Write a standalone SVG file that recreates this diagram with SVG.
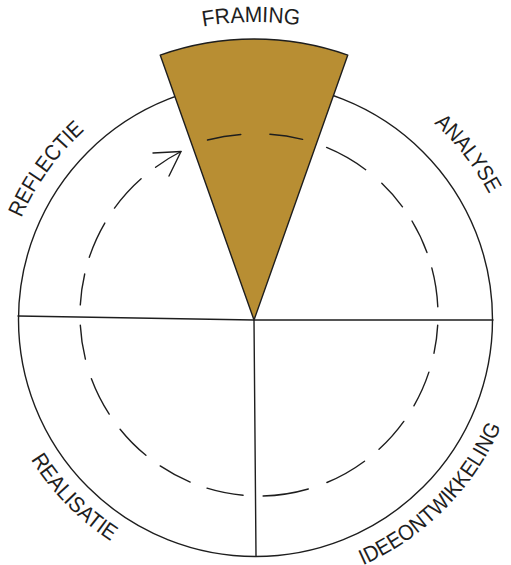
<svg xmlns="http://www.w3.org/2000/svg" width="511" height="565" viewBox="0 0 511 565">
<style>
.ln{fill:none;stroke:#1e1e1e;stroke-width:1.4;stroke-linecap:round;stroke-linejoin:round}
.lbl{font-family:"Liberation Sans","Open Sans",sans-serif;font-size:22px;fill:#1e1e1e}
</style>
<defs>
<path id="pF" d="M -43 320 A 298 298 0 0 1 553 320"/>
<path id="pA" d="M -11 320 A 266 266 0 0 1 521 320"/>
<path id="pR" d="M 0 320 A 255 255 0 0 1 510 320"/>
<path id="pRe" d="M -9 320 A 264 264 0 0 0 519 320"/>
<path id="pI" d="M -13 320 A 268 268 0 0 0 523 320"/>
</defs>
<rect width="511" height="565" fill="#ffffff"/>
<g id="circle">
<circle class="ln" cx="255.5" cy="319.5" r="237"/>
</g>
<g id="connectors">
<polyline class="ln" points="18,316 254,320 493,320"/>
<line class="ln" x1="254" y1="320" x2="256" y2="556"/>
</g>
<g id="framing-wedge">
<path d="M 254 320 L 160.2 55.1 A 281 281 0 0 1 347.8 55.1 Z" fill="#b88e33" stroke="#1e1e1e" stroke-width="1.4" stroke-linejoin="round"/>
</g>
<g id="cycle">
<path class="ln" d="M 269.9 134.3 A 179 181 0 0 1 302.6 139.4
M 326.6 147.4 A 179 181 0 0 1 365.7 169.7
M 381.8 183.3 A 179 181 0 0 1 402.5 206.8
M 412.0 221.0 A 179 181 0 0 1 427.0 252.5
M 431.8 267.9 A 179 181 0 0 1 437.8 306.8
M 437.7 325.1 A 179 181 0 0 1 434.0 353.2
M 428.9 372.1 A 179 181 0 0 1 413.9 405.8
M 403.8 421.4 A 179 181 0 0 1 379.0 449.3
M 364.5 461.2 A 179 181 0 0 1 326.9 482.5
M 308.3 489.0 A 179 181 0 0 1 263.1 496.0
M 243.1 495.3 A 179 181 0 0 1 207.0 488.2
M 190.2 482.1 A 179 181 0 0 1 160.2 465.9
M 145.9 455.3 A 179 181 0 0 1 120.1 429.2
M 109.2 414.1 A 179 181 0 0 1 91.4 378.7
M 85.4 359.1 A 179 181 0 0 1 80.3 325.1
M 80.3 304.9 A 179 181 0 0 1 84.7 274.0
M 89.3 257.3 A 179 181 0 0 1 104.8 223.1
M 114.5 208.1 A 179 181 0 0 1 141.1 178.8
M 155.6 167.3 A 179 181 0 0 1 181.0 151.5
M 207.5 140.0 A 179 181 0 0 1 240.8 134.5"/>
<polyline class="ln" points="153,153 181,151.5 169,176"/>
</g>
<g id="labels">
<text class="lbl"><textPath href="#pF" startOffset="464" text-anchor="middle" textLength="97" lengthAdjust="spacingAndGlyphs">FRAMING</textPath></text>
<text class="lbl"><textPath href="#pA" startOffset="614" textLength="90" lengthAdjust="spacingAndGlyphs">ANALYSE</textPath></text>
<text class="lbl"><textPath href="#pR" startOffset="105" textLength="109" lengthAdjust="spacingAndGlyphs">REFLECTIE</textPath></text>
<text class="lbl"><textPath href="#pRe" startOffset="147" textLength="115" lengthAdjust="spacingAndGlyphs">REALISATIE</textPath></text>
<text class="lbl"><textPath href="#pI" startOffset="532" textLength="200" lengthAdjust="spacingAndGlyphs">IDEEONTWIKKELING</textPath></text>
</g>
</svg>
